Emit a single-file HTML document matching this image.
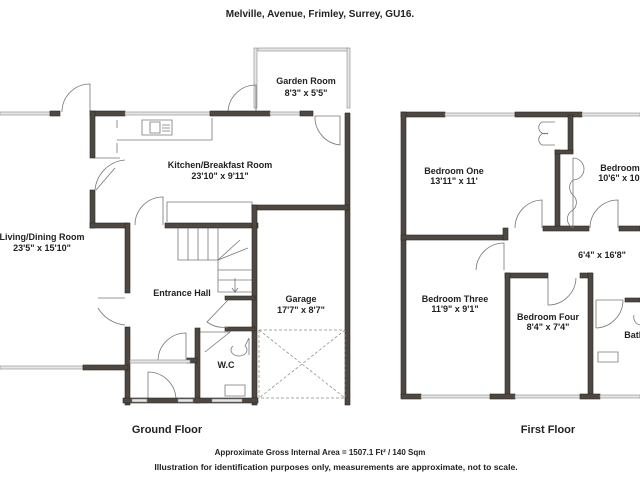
<!DOCTYPE html>
<html><head><meta charset="utf-8"><style>
body{margin:0;background:#fff}
svg{display:block}
text{font-family:"Liberation Sans",sans-serif;font-weight:bold;fill:#222;text-anchor:middle}
.w{fill:#4f4842;stroke:#2c2824;stroke-width:.6}
.win{fill:#e6e6e6;stroke:#888;stroke-width:.6}
.ln{fill:none;stroke:#777;stroke-width:.8}
</style></head><body>
<svg width="640" height="480" viewBox="0 0 640 480">
<text x="320" y="17" font-size="10">Melville, Avenue, Frimley, Surrey, GU16.</text>
<!-- Garden room -->
<rect class="win" x="258" y="48" width="90" height="3"/>
<rect class="win" x="254" y="48" width="3" height="60"/>
<rect class="win" x="347" y="48" width="3" height="60"/>
<path class="ln" d="M228 113 A28 28 0 0 1 256 85 L256 113"/>
<text x="306" y="84" font-size="9">Garden Room</text>
<text x="306" y="96" font-size="9">8'3" x 5'5"</text>
<!-- Ground floor -->
<rect class="win" x="0" y="112" width="50" height="3"/>
<rect class="w" x="50" y="111" width="10" height="5"/>
<path class="ln" d="M62 112 A28 28 0 0 1 90 84 L90 112"/>
<rect class="w" x="90" y="111" width="35" height="5"/>
<rect class="win" x="125" y="112" width="85" height="3"/>
<rect class="w" x="210" y="111" width="60" height="5"/>
<rect class="win" x="270" y="112" width="30" height="3"/>
<rect class="w" x="300" y="111" width="13" height="5"/>
<rect class="w" x="345" y="113" width="5" height="292"/>
<path class="ln" d="M340 145 A28 28 0 0 1 315 116 L340 116 Z"/>
<rect class="w" x="90" y="111" width="5" height="47"/>
<rect class="w" x="90" y="190" width="5" height="38"/>
<rect class="w" x="90" y="223" width="38" height="5"/>
<path class="ln" d="M95 158 L120 158 M95 190 A33 33 0 0 1 125 160 M96 190 L115 168"/>
<path class="ln" d="M117 120 L117 128 M142 120 L172 120 L172 135 L142 135 Z M150 122 L160 122 L160 133 L150 133 Z M162 125 L170 125 M162 128 L170 128 M162 131 L170 131"/>
<path class="ln" d="M117 143 L117 153 M117 140 L212 140 L212 118"/>
<rect class="w" x="125" y="223" width="5" height="70"/>
<rect class="w" x="125" y="327" width="5" height="78"/>
<path class="ln" d="M135 225 A28 28 0 0 1 163 197 L163 225"/>
<path class="ln" d="M167 222 L167 202 L252 202 L252 222"/>
<rect class="w" x="165" y="223" width="93" height="5"/>
<rect class="w" x="252" y="205" width="96" height="5"/>
<rect class="w" x="252" y="205" width="5" height="200"/>
<path class="ln" d="M178 228 L178 260 L218 260 L218 292 L252 292 M188 228 L188 260 M198 228 L198 260 M208 228 L208 260 M218 260 L218 228 M218 260 L240 240 M218 260 L248 248 M218 270 L252 270 M218 280 L252 280 M235 278 L235 292 L232 288 M235 292 L238 288"/>
<rect class="w" x="225" y="296" width="30" height="4"/>
<rect class="w" x="225" y="327" width="30" height="4"/>
<path class="ln" d="M228 300 L207 322 A28 28 0 0 0 228 327"/>
<path class="ln" d="M200 332 L230 332 L205 352"/>
<rect class="w" x="195" y="328" width="5" height="75"/>
<rect class="w" x="187" y="358" width="10" height="5"/>
<path class="ln" d="M233 346 A8 6 0 1 0 245 346 L249 338 L249 355"/>
<path class="ln" d="M225 385 L245 385 L245 396 L225 396 Z"/>
<text x="226" y="368" font-size="9">W.C</text>
<path class="ln" d="M98 308 A35 35 0 0 0 125 325 M98 298 L125 298"/>
<path class="ln" d="M158 360 A28 28 0 0 1 186 333 L186 360"/>
<path class="ln" d="M148 400 L148 372 A28 28 0 0 1 176 400"/>
<rect class="win" x="0" y="366" width="83" height="3"/>
<rect class="w" x="83" y="365" width="45" height="5"/>
<rect class="win" x="130" y="360" width="60" height="3"/>
<rect class="w" x="123" y="398" width="135" height="5"/>
<rect class="win" x="132" y="399" width="15" height="3"/>
<rect class="win" x="178" y="399" width="15" height="3"/>
<rect class="win" x="212" y="399" width="30" height="3"/>
<path d="M259 330 L345 330 L345 398 L259 398 Z M259 330 L345 398 M345 330 L259 398" fill="none" stroke="#888" stroke-width=".7" stroke-dasharray="3,2"/>
<text x="220" y="168" font-size="9">Kitchen/Breakfast Room</text>
<text x="220" y="179" font-size="9">23'10" x 9'11"</text>
<text x="42" y="240" font-size="9">Living/Dining Room</text>
<text x="42" y="251" font-size="9">23'5" x 15'10"</text>
<text x="182" y="296" font-size="9">Entrance Hall</text>
<text x="301" y="302" font-size="9">Garage</text>
<text x="301" y="313" font-size="9">17'7" x 8'7"</text>
<!-- First floor -->
<rect class="w" x="401" y="112" width="44" height="5"/>
<rect class="win" x="445" y="113" width="70" height="3"/>
<rect class="w" x="515" y="112" width="67" height="5"/>
<rect class="win" x="582" y="113" width="58" height="3"/>
<rect class="w" x="401" y="112" width="5" height="285"/>
<rect class="w" x="401" y="235" width="105" height="5"/>
<rect class="w" x="503" y="228" width="5" height="12"/>
<rect class="w" x="555" y="150" width="5" height="80"/>
<rect class="w" x="568" y="115" width="5" height="38"/>
<rect class="w" x="555" y="150" width="18" height="4"/>
<rect class="w" x="543" y="226" width="46" height="5"/>
<rect class="w" x="619" y="226" width="21" height="5"/>
<path class="ln" d="M555 122 L542 122 M555 145 L542 145 M542 122 A6 6 0 0 0 548 133 M542 145 A6 6 0 0 1 548 134 M573 158 L573 228 M573 158 A10 10 0 0 1 573 180 M573 195 A10 10 0 0 1 573 210 M573 180 A10 10 0 0 0 573 195 M573 210 A10 10 0 0 0 573 228"/>
<path class="ln" d="M515 228 A28 28 0 0 1 542 200 L542 228"/>
<path class="ln" d="M590 228 A28 28 0 0 1 618 200 L618 228"/>
<path class="ln" d="M476 270 A28 28 0 0 1 504 243 L504 270"/>
<rect class="w" x="505" y="273" width="43" height="5"/>
<rect class="w" x="580" y="273" width="12" height="5"/>
<rect class="w" x="505" y="273" width="5" height="124"/>
<rect class="w" x="588" y="273" width="5" height="124"/>
<path class="ln" d="M548 278 L548 305 A28 28 0 0 0 576 278"/>
<rect class="w" x="625" y="298" width="15" height="4"/>
<path class="ln" d="M596 300 L623 300 M596 300 L596 328 M596 328 A28 28 0 0 0 623 300 M634 315 A8 8 0 0 0 640 325"/>
<path class="ln" d="M598 352 L618 352 L618 362 L598 362 Z"/>
<rect class="w" x="401" y="394" width="20" height="5"/>
<rect class="win" x="421" y="395" width="70" height="3"/>
<rect class="w" x="490" y="394" width="25" height="5"/>
<rect class="win" x="515" y="395" width="65" height="3"/>
<rect class="w" x="580" y="394" width="20" height="5"/>
<rect class="win" x="600" y="395" width="40" height="3"/>
<text x="454" y="174" font-size="9">Bedroom One</text>
<text x="454" y="184" font-size="9">13'11" x 11'</text>
<text x="620" y="171" font-size="9">Bedroom</text>
<text x="620" y="181" font-size="9">10'6" x 10'</text>
<text x="602" y="258" font-size="9">6'4" x 16'8"</text>
<text x="455" y="302" font-size="9">Bedroom Three</text>
<text x="455" y="312" font-size="9">11'9" x 9'1"</text>
<text x="548" y="320" font-size="9">Bedroom Four</text>
<text x="548" y="330" font-size="9">8'4" x 7'4"</text>
<text x="636" y="338" font-size="9">Bathr</text>
<text x="167" y="433" font-size="11">Ground Floor</text>
<text x="548" y="433" font-size="11">First Floor</text>
<text x="320" y="455" font-size="8">Approximate Gross Internal Area = 1507.1 Ft² / 140 Sqm</text>
<text x="336" y="470" font-size="8.6">Illustration for identification purposes only, measurements are approximate, not to scale.</text>
</svg>
</body></html>
